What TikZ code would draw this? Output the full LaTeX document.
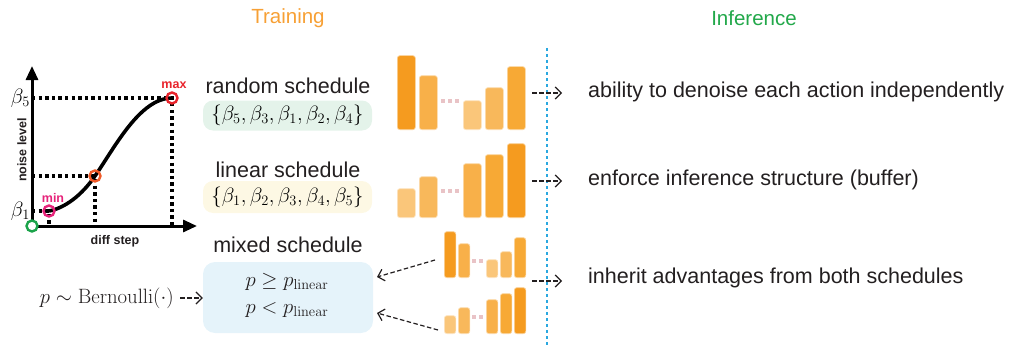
\documentclass[tikz,border=0pt]{standalone}
\usepackage[no-math]{fontspec}
\setmainfont{Liberation Sans}
\usetikzlibrary{arrows.meta}
\definecolor{ortitle}{HTML}{F7A035}
\definecolor{grtitle}{HTML}{22A84A}
\definecolor{oA}{HTML}{F59B1F}
\definecolor{oB}{HTML}{F7A935}
\definecolor{oC}{HTML}{F8B049}
\definecolor{oD}{HTML}{F8B85B}
\definecolor{oE}{HTML}{FAC67A}
\definecolor{dotc}{HTML}{E9C3C6}
\definecolor{bggreen}{HTML}{E4F3EA}
\definecolor{bgyellow}{HTML}{FDF8E4}
\definecolor{bgblue}{HTML}{E5F3FA}
\definecolor{vline}{HTML}{2AA8E0}
\definecolor{cgreen}{HTML}{1BA34A}
\definecolor{cpink}{HTML}{E6237A}
\definecolor{corange}{HTML}{F05A28}
\definecolor{cred}{HTML}{E8232B}
\definecolor{txt}{HTML}{231F20}
\begin{document}
\begin{tikzpicture}[x=1pt,y=-1pt,
  bar/.style={fill=#1, draw=white!55!#1, line width=0.7pt, rounded corners=2.5pt, inner sep=0pt, minimum width=18pt, anchor=south west},
  sbar/.style={bar=#1, minimum width=11.5pt},
  dots/.style={draw=dotc, line width=4pt, dash pattern=on 4pt off 3pt},
  darr/.style={draw=txt, line width=1.2pt, dash pattern=on 4.5pt off 2.5pt, -{Straight Barb[length=6pt,width=12pt,line width=1.2pt]}},
  body/.style={text=txt, font=\fontsize{21.5}{25}\selectfont, inner sep=0pt},
  mathtxt/.style={text=txt, font=\fontsize{20.5}{24}\selectfont, inner sep=0pt},
  title/.style={font=\fontsize{20.5}{24}\selectfont, inner sep=0pt},
  setbox/.style={rounded corners=10pt, inner sep=0pt, minimum width=169pt},
  axis/.style={line width=3pt, -{Triangle[length=14pt,width=12pt]}},
  guide/.style={line width=3.3pt, dash pattern=on 3.3pt off 3.3pt},
  pt/.style={circle, draw=#1, line width=2.4pt, inner sep=0pt, minimum size=11pt},
  glabel/.style={font=\fontsize{12.5}{14}\selectfont\bfseries, inner sep=0pt}
]
\useasboundingbox (0,0) rectangle (1009,345);

% titles
\node[title, text=ortitle] (ttrain) at (288,18) {Training};
\node[title, text=grtitle] (tinf) at (754,18) {Inference};

% separator
\coordinate (vtop) at (547,48);
\coordinate (vbot) at (547,345);
\draw[vline, line width=2.6pt, dash pattern=on 3pt off 3pt] (vtop) -- (vbot);

% ---- graph ----
\coordinate (O) at (32,226);
\coordinate (ytip) at (32,66);
\coordinate (xtip) at (197,226);
\coordinate (mn) at (49,211);
\coordinate (md) at (95,176);
\coordinate (mx) at (172,98);
\coordinate (y5) at (32,98);
\coordinate (ym) at (32,176);
\coordinate (y1) at (32,211);
\draw[guide] (y5) -- (mx) -- (mx |- O);
\draw[guide] (ym) -- (md) -- (md |- O);
\draw[guide] (y1) -- (mn) -- (mn |- O);
\draw[axis] (O) -- (ytip);
\draw[axis] (O) -- (xtip);
\draw[line width=3.6pt] (mn) .. controls (65,208) and (82,195) .. (md)
   .. controls (115,147) and (140,98) .. (mx);
\node[pt=cgreen, fill=white] (pO) at (O) {};
\node[pt=cpink] (pmn) at (mn) {};
\node[pt=corange] (pmd) at (md) {};
\node[pt=cred] (pmx) at (mx) {};
\node[glabel, text=cred] (lmax) at (174,85) {max};
\node[glabel, text=cpink] (lmin) at (53,198) {min};
\node[glabel, text=txt] (ldiff) at (115,241) {diff step};
\node[glabel, text=txt, rotate=90] (lnoise) at (22,150) {noise level};
\node[font=\fontsize{21}{24}\selectfont, inner sep=0pt, anchor=east] (b5) at (30,98) {$\beta_5$};
\node[font=\fontsize{21}{24}\selectfont, inner sep=0pt, anchor=east] (b1) at (30,211) {$\beta_1$};

% ---- schedules ----
\node[body] (lrand) at (288,86) {random schedule};
\node[setbox, fill=bggreen, minimum height=30pt] (srand) at (287.5,115.5)
  {\fontsize{20.5}{24}\selectfont$\{\beta_5,\beta_3,\beta_1,\beta_2,\beta_4\}$};
\node[body] (llin) at (288,170) {linear schedule};
\node[setbox, fill=bgyellow, minimum height=32pt] (slin) at (287.5,197)
  {\fontsize{20.5}{24}\selectfont$\{\beta_1,\beta_2,\beta_3,\beta_4,\beta_5\}$};
\node[body] (lmix) at (288,245) {mixed schedule};
\node[setbox, fill=bgblue, minimum width=170pt, minimum height=71pt, rounded corners=12pt] (smix) at (288,297.5) {};
\node[mathtxt] (pge) at (287,282) {$p\geq p_{\mathrm{linear}}$};
\node[mathtxt] (plt) at (287,310) {$p< p_{\mathrm{linear}}$};
\node[mathtxt, anchor=east] (bern) at (174,298) {$p\sim\mathrm{Bernoulli}(\cdot)$};
\draw[darr] ([xshift=6pt]bern.east) -- (bern.east -| smix.west);

% ---- bars: random ----
\node[bar=oA, minimum height=74pt] (r1) at (397,130) {};
\node[bar=oC, minimum height=54pt] (r2) at (419,130) {};
\node[bar=oE, minimum height=29pt] (r3) at (463,130) {};
\node[bar=oD, minimum height=42pt] (r4) at (485,130) {};
\node[bar=oB, minimum height=63pt] (r5) at (507,130) {};
\coordinate (rd1) at (441,101); \coordinate (rd2) at (459,101);
\draw[dots] (rd1) -- (rd2);

% ---- bars: linear ----
\node[bar=oE, minimum height=29pt] (l1) at (397,218) {};
\node[bar=oD, minimum height=41pt] (l2) at (419,218) {};
\node[bar=oC, minimum height=54pt] (l3) at (463,218) {};
\node[bar=oB, minimum height=63pt] (l4) at (485,218) {};
\node[bar=oA, minimum height=74pt] (l5) at (507,218) {};
\coordinate (ld1) at (441,191); \coordinate (ld2) at (459,191);
\draw[dots] (ld1) -- (ld2);

% ---- bars: mixed upper ----
\node[sbar=oA, minimum height=46pt] (m1) at (444,278) {};
\node[sbar=oC, minimum height=34pt] (m2) at (458,278) {};
\node[sbar=oE, minimum height=18pt] (m3) at (486,278) {};
\node[sbar=oD, minimum height=26pt] (m4) at (500,278) {};
\node[sbar=oB, minimum height=40pt] (m5) at (514,278) {};
\coordinate (md1) at (472,261); \coordinate (md2) at (483,261);
\draw[dots] (md1) -- (md2);

% ---- bars: mixed lower ----
\node[sbar=oE, minimum height=18pt] (n1) at (444,334) {};
\node[sbar=oD, minimum height=26pt] (n2) at (458,334) {};
\node[sbar=oC, minimum height=34pt] (n3) at (486,334) {};
\node[sbar=oB, minimum height=40pt] (n4) at (500,334) {};
\node[sbar=oA, minimum height=46pt] (n5) at (514,334) {};
\coordinate (nd1) at (472,317); \coordinate (nd2) at (483,317);
\draw[dots] (nd1) -- (nd2);

% arrows from mixed bars to box
\coordinate (mu) at (435,260);
\coordinate (mb) at (438,330);
\coordinate (eu) at (377,277);
\coordinate (eb) at (377,313);
\draw[darr] (mu) -- (eu);
\draw[darr] (mb) -- (eb);

% ---- inference texts ----
\node[body, anchor=west] (t1) at (588,92) {ability to denoise each action independently};
\node[body, anchor=west] (t2) at (588,180) {enforce inference structure (buffer)};
\node[body, anchor=west] (t3) at (588,278) {inherit advantages from both schedules};
\coordinate (a1) at (532,93);
\coordinate (a2) at (532,181);
\coordinate (a3) at (532,281);
\draw[darr] (a1) -- ([xshift=-26pt]a1 -| t1.west);
\draw[darr] (a2) -- ([xshift=-26pt]a2 -| t2.west);
\draw[darr] (a3) -- ([xshift=-26pt]a3 -| t3.west);
\end{tikzpicture}
\end{document}
